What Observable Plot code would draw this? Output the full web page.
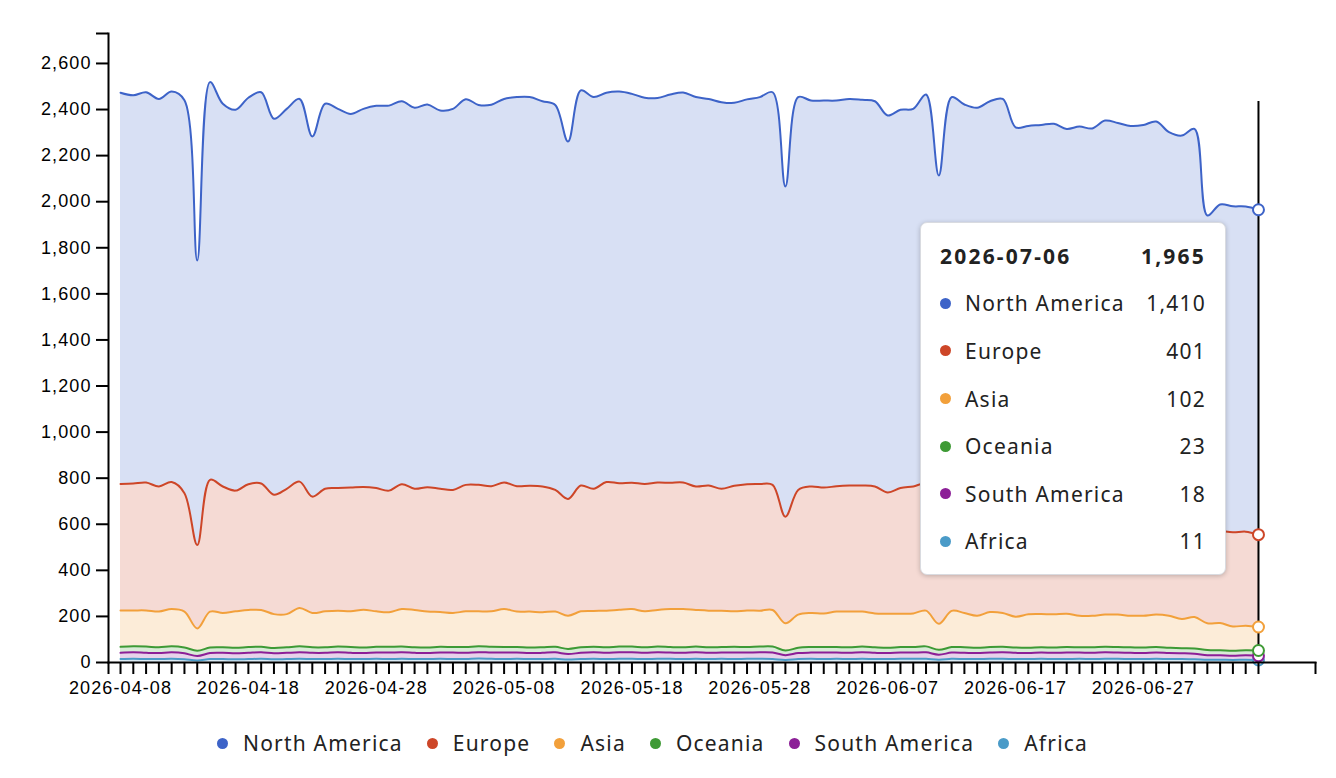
<!DOCTYPE html>
<html>
<head>
<meta charset="utf-8">
<script src="https://cdn.jsdelivr.net/npm/d3@7"></script>
<script src="https://cdn.jsdelivr.net/npm/@observablehq/plot@0.6"></script>
<style>
  html, body { margin: 0; padding: 0; background: #fff; }
  #wrap { position: relative; width: 1336px; height: 778px; overflow: hidden; }
  #chart svg text { letter-spacing: 1.1px; }
  #tooltip {
    position: absolute; left: 920px; top: 222px; width: 306px; height: 353px;
    box-sizing: border-box; background: #fff; border-radius: 7px;
    border: 1px solid #d9dbe0; box-shadow: 0 1px 5px rgba(0,0,0,0.22);
    font-family: "Noto Sans", "Open Sans", sans-serif; color: #222;
    padding: 9px 19px 0 19px;
  }
  #tooltip .row { display: flex; align-items: center; height: 47.6px; font-size: 21px; letter-spacing: 1.2px; }
  #tooltip .head { font-weight: bold; letter-spacing: 2.2px; }
  #tooltip .dot { width: 11px; height: 11px; border-radius: 50%; margin-right: 14px; flex: none; }
  #tooltip .name { flex: 1; }
  #tooltip .val { text-align: right; }
  #legend {
    position: absolute; left: 217px; top: 728px; height: 30px; display: flex; align-items: center;
    font-family: "Noto Sans", "Open Sans", sans-serif; font-size: 21px; letter-spacing: 1.2px; color: #222;
  }
  #legend .item { display: flex; align-items: center; margin-right: 24px; }
  #legend .dot { width: 11px; height: 11px; border-radius: 50%; margin-right: 15px; }
</style>
</head>
<body>
<div id="wrap">
  <div id="chart"></div>
  <div id="tooltip"></div>
  <div id="legend"></div>
</div>
<script>
// ---------- data ----------
const startDate = "2026-04-08";
const dayCount = 90;
const regions = ["North America", "Europe", "Asia", "Oceania", "South America", "Africa"];
const regionColors = ["#3d63c8", "#cd4628", "#f2a03b", "#3e9a35", "#8c1f97", "#4a9bc8"];
const stackOrder = ["Africa", "South America", "Oceania", "Asia", "Europe", "North America"];

const northAmerica = [
  1698,1685,1694,1682,1695,1705,1235,1726,1661,1653,
  1677,1698,1632,1649,1661,1563,1671,1646,1622,1641,
  1659,1671,1662,1654,1661,1642,1654,1674,1649,1656,
  1665,1689,1687,1672,1671,1551,1715,1700,1690,1700,
  1688,1676,1669,1685,1693,1690,1678,1678,1662,1670,
  1679,1704,1433,1705,1675,1680,1674,1678,1674,1672,
  1636,1642,1639,1690,1434,1684,1662,1653,1671,1676,
  1583,1584,1585,1588,1574,1581,1578,1600,1594,1585,
  1587,1598,1567,1557,1571,1365,1416,1415,1411,1410
];
const europe = [
  549,551,555,543,551,514,362,572,549,524,
  546,549,518,544,548,505,532,532,537,533,
  535,528,542,526,540,535,534,549,549,543,
  549,544,546,546,528,507,546,530,558,549,
  548,553,553,548,549,536,543,529,545,548,
  550,543,463,541,549,546,544,547,547,551,
  526,545,551,550,512,546,545,552,546,555,
  541,536,538,541,530,542,537,544,540,541,
  543,542,532,541,548,405,401,409,408,401
];
const asia = [
  158,156,157,155,162,156,97,156,149,158,
  161,160,147,144,167,149,156,156,155,164,
  154,150,163,162,156,151,148,155,152,154,
  165,154,156,152,153,144,156,156,159,160,
  163,156,159,165,166,159,159,158,154,159,
  156,159,118,144,148,146,154,155,152,147,
  148,145,146,155,113,157,149,139,152,147,
  134,145,144,144,145,137,137,140,141,137,
  138,141,139,127,136,116,118,105,107,102
];
const oceania = [
  26,26,27,25,26,25,23,24,24,24,
  25,24,23,24,26,24,24,25,25,24,
  25,25,25,24,24,25,24,25,25,25,
  24,24,24,24,24,22,24,24,24,25,
  25,24,25,24,24,25,24,24,25,24,
  25,26,20,23,24,24,24,24,25,24,
  23,24,24,26,21,24,24,23,24,24,
  23,23,23,23,24,23,24,24,24,24,
  24,24,23,22,23,22,22,22,22,23
];
const southAmerica = [
  27,28,27,26,28,26,19,26,27,26,
  27,28,26,27,28,27,27,28,27,26,
  27,28,28,27,26,27,28,27,28,27,
  28,27,26,27,28,24,27,28,27,28,
  28,27,28,27,27,28,27,27,28,27,
  28,28,21,26,27,28,27,27,28,27,
  26,27,27,28,22,27,27,26,27,28,
  27,26,27,27,28,27,27,28,27,27,
  26,27,26,25,24,20,19,18,19,18
];
const africa = [
  15,16,15,15,16,14,9,15,15,14,
  15,16,14,15,16,15,15,16,15,15,
  16,15,16,15,15,16,15,15,17,16,
  15,16,15,15,16,13,15,16,15,16,
  16,15,16,16,15,16,15,16,15,16,
  16,15,11,15,16,15,16,15,16,15,
  15,16,16,16,12,16,15,15,16,16,
  15,15,16,15,15,16,15,16,16,15,
  15,16,15,15,14,12,12,11,12,11
];
const xTickLabels = ["2026-04-08","2026-04-18","2026-04-28","2026-05-08","2026-05-18","2026-05-28","2026-06-07","2026-06-17","2026-06-27"];
const yTickValues = [0,200,400,600,800,1000,1200,1400,1600,1800,2000,2200,2400,2600];
const yMax = 2730;
const crosshairTop = 2435;

// ---------- build ----------
const seriesByRegion = {
  "North America": northAmerica, "Europe": europe, "Asia": asia,
  "Oceania": oceania, "South America": southAmerica, "Africa": africa
};
const parse = d3.utcParse("%Y-%m-%d");
const fmtDate = d3.utcFormat("%Y-%m-%d");
const dates = d3.range(dayCount).map(i => d3.utcDay.offset(parse(startDate), i));
const rows = [];
for (const r of stackOrder) seriesByRegion[r].forEach((v, i) => rows.push({date: dates[i], region: r, value: v}));
const lastDate = dates[dayCount - 1];
const lastRows = rows.filter(d => +d.date === +lastDate);

const DAY = 864e5;
const x0 = new Date(+dates[0] - 0.94 * DAY);
const x1 = new Date(+lastDate + 4.46 * DAY);
const labelSet = new Set(xTickLabels);
const fmtNum = d3.format(",");

const chart = Plot.plot({
  width: 1336, height: 700,
  marginLeft: 108, marginRight: 21, marginTop: 33, marginBottom: 38,
  style: {fontFamily: "'Liberation Sans', Arial, sans-serif", fontSize: "18px", color: "#000", background: "transparent", overflow: "visible"},
  x: {type: "utc", domain: [x0, x1]},
  y: {domain: [0, yMax]},
  color: {domain: regions, range: regionColors},
  marks: [
    Plot.areaY(rows, {x: "date", y: "value", z: "region", fill: "region", fillOpacity: 0.2, order: stackOrder, curve: "catmull-rom"}),
    Plot.lineY(rows, Plot.stackY2({x: "date", y: "value", z: "region", stroke: "region", strokeWidth: 2, order: stackOrder, curve: "catmull-rom"})),
    Plot.ruleX([lastDate], {y1: 0, y2: crosshairTop, stroke: "#000", strokeWidth: 2}),
    Plot.dot(lastRows, Plot.stackY2({x: "date", y: "value", z: "region", stroke: "region", fill: "#fff", r: 5.5, strokeWidth: 2, order: stackOrder})),
    Plot.axisY({ticks: [...yTickValues, yMax], tickSize: 12, tickPadding: 5, strokeWidth: 2, label: null,
      tickFormat: d => d === yMax ? "" : fmtNum(d)}),
    Plot.axisX({ticks: [x0, ...dates, x1], tickSize: 12, tickPadding: 7, strokeWidth: 2, label: null,
      tickFormat: d => labelSet.has(fmtDate(d)) ? fmtDate(d) : ""}),
    Plot.frame({anchor: "left", stroke: "#000", strokeWidth: 2}),
    Plot.frame({anchor: "bottom", stroke: "#000", strokeWidth: 2})
  ]
});
document.getElementById("chart").appendChild(chart);

// ---------- tooltip ----------
const tip = document.getElementById("tooltip");
const total = regions.reduce((s, r) => s + seriesByRegion[r][dayCount - 1], 0);
let html = `<div class="row head"><span class="name">${fmtDate(lastDate)}</span><span class="val">${fmtNum(total)}</span></div>`;
regions.forEach((r, i) => {
  html += `<div class="row"><span class="dot" style="background:${regionColors[i]}"></span><span class="name">${r}</span><span class="val">${fmtNum(seriesByRegion[r][dayCount - 1])}</span></div>`;
});
tip.innerHTML = html;

// ---------- legend ----------
const legend = document.getElementById("legend");
legend.innerHTML = regions.map((r, i) =>
  `<div class="item"><span class="dot" style="background:${regionColors[i]}"></span><span>${r}</span></div>`).join("");
</script>
</body>
</html>
